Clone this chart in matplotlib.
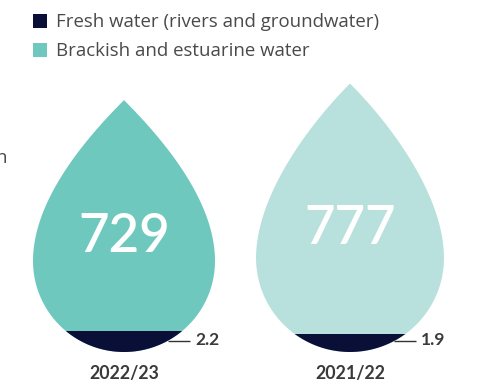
import numpy as np
import matplotlib
matplotlib.use("Agg")
import matplotlib.pyplot as plt
from matplotlib.patches import Polygon, Rectangle

# Water withdrawal by source (megalitres)
years = ["2022/23", "2021/22"]
brackish = [729, 777]
fresh = [2.2, 1.9]
legend_labels = ["Fresh water (rivers and groundwater)", "Brackish and estuarine water"]

NAVY = "#0a0f38"
TEAL = "#6fc8be"
TEAL_LIGHT = "#b8e0dc"
TEXT = "#4a4a4a"
drop_colors = [TEAL, TEAL_LIGHT]

W, H = 484, 383
fig = plt.figure(figsize=(W / 100, H / 100), dpi=100)
ax = fig.add_axes([0, 0, 1, 1])
ax.set_xlim(0, W)
ax.set_ylim(H, 0)
ax.axis("off")

FONT = "Lato"
BODY = "Open Sans"
base = 352            # bottom of the drops
centers = [124, 350]
h_scale = 0.3455      # drop height per unit of brackish water
r_scale = 91 / np.sqrt(729)
band_scale = 9.55     # fresh-water band height per unit


def drop_outline(cx, h, r):
    """Teardrop: two cubic Bezier sides joined by a semicircular bottom."""
    t = np.linspace(0, 1, 80)[:, None]
    p0 = np.array([0, h])
    p1 = np.array([0.44 * r, h - 0.44 * r])
    p2 = np.array([r, r + 0.66 * r])
    p3 = np.array([r, r])
    right = ((1 - t) ** 3) * p0 + 3 * ((1 - t) ** 2) * t * p1 \
        + 3 * (1 - t) * t ** 2 * p2 + t ** 3 * p3
    ang = np.linspace(0, -np.pi, 120)
    arc = np.column_stack([r * np.cos(ang), r + r * np.sin(ang)])
    left = right[::-1] * np.array([-1, 1])
    pts = np.vstack([right, arc, left])
    return np.column_stack([cx + pts[:, 0], base - pts[:, 1]])


for cx, year, b, f, col in zip(centers, years, brackish, fresh, drop_colors):
    h = b * h_scale
    r = np.sqrt(b) * r_scale
    outline = drop_outline(cx, h, r)
    drop = Polygon(outline, closed=True, facecolor=col, edgecolor="none")
    ax.add_patch(drop)

    band_h = f * band_scale
    band = Rectangle((cx - r - 2, base - band_h), 2 * r + 4, band_h + 2,
                     facecolor=NAVY, edgecolor="none")
    ax.add_patch(band)
    band.set_clip_path(drop)

    ax.text(cx, base - 0.46 * h, f"{b}", color="white", fontsize=38,
            family=FONT, weight="semibold", ha="center", va="center")

    ly = base - 11
    ax.plot([cx + 44, cx + 66], [ly, ly], color="#333333", lw=1.0,
            solid_capstyle="butt")
    ax.text(cx + 71, ly - 1, f"{f}", color="#3a3a3a", fontsize=12.5,
            family=FONT, weight="bold", ha="left", va="center")

    ax.text(cx, 374, year, color="#3a3a3a", fontsize=12.8, family=FONT,
            weight="bold", ha="center", va="center")

# Legend
for i, (lab, col) in enumerate(zip(legend_labels, [NAVY, TEAL])):
    y = 21 + i * 28.5
    ax.add_patch(Rectangle((33, y - 7), 14, 14, facecolor=col, edgecolor="none"))
    ax.text(56, y + 1, lab, color=TEXT, fontsize=13.4, family=BODY,
            ha="left", va="center")

# Edge of a neighbouring caption
ax.text(-5, 158, "n", color=TEXT, fontsize=13.4, family=BODY,
        ha="left", va="center")

fig.savefig("out.png", dpi=100)
